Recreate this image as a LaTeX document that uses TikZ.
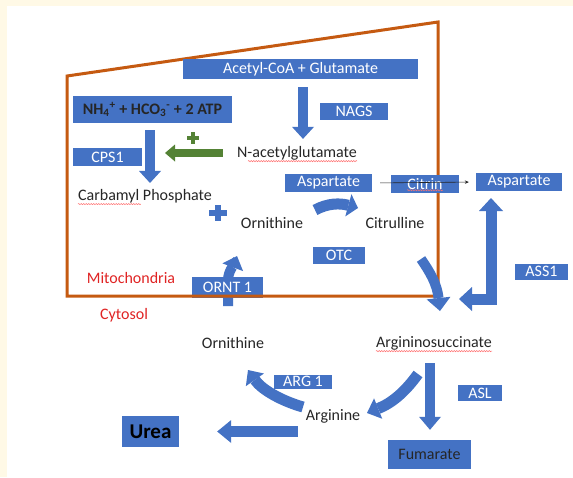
\documentclass[tikz,border=0pt]{standalone}
\usepackage{fontspec}
\setmainfont{Carlito}
\usetikzlibrary{arrows.meta}
\usetikzlibrary{decorations.pathmorphing}
\definecolor{pptblue}{HTML}{4472C4}
\definecolor{pptorange}{HTML}{C55A11}
\definecolor{pptgreen}{HTML}{548235}
\definecolor{pptred}{HTML}{E02424}
\definecolor{cream}{HTML}{FFF9E6}
\begin{document}
\begin{tikzpicture}[x=1pt,y=-1pt,
 bluebox/.style={fill=pptblue,text=white,inner sep=0pt,font=\fontsize{16}{19}\selectfont},
 word/.style={text=black!85,inner sep=0pt,font=\fontsize{16}{19}\selectfont},
 redword/.style={text=pptred,inner sep=0pt,font=\fontsize{16}{19}\selectfont},
 fat/.style={draw=pptblue,line width=10pt,-{Triangle[length=12pt,width=22pt,line width=0pt]}},
 squig/.style={draw=red!55,line width=0.5pt,decorate,decoration={snake,amplitude=0.6pt,segment length=2.5pt}}]
\fill[cream] (0,0) rectangle (573,477);
\fill[white] (7,6) rectangle (573,477);
\useasboundingbox (0,0) rectangle (573,477);
\coordinate (orntfoot) at (228,306);
\coordinate (orntin) at (237,256);
\draw[fat] (orntfoot) -- ++(0,-26) .. controls +(0,-8) and +(-3,8) .. (orntin);
\node[bluebox,minimum width=71pt,minimum height=21pt] (ornt) at (227.5,287.5) {ORNT 1};
\draw[pptorange,line width=3pt] (67,76) -- (438,22) -- (438,296) -- (67,296) -- cycle;
\node[bluebox,minimum width=235pt,minimum height=20pt] (acetyl) at (300.5,69) {Acetyl-CoA + Glutamate};
\node[bluebox,minimum width=68pt,minimum height=17pt] (nags) at (354,111.5) {NAGS};
\node[bluebox,text=black!85,font=\fontsize{16}{19}\selectfont\bfseries,minimum width=159pt,minimum height=27pt] (nh) at (152.5,109.5) {NH\textsubscript{4}\textsuperscript{+} + HCO\textsubscript{3}\textsuperscript{-} + 2 ATP};
\node[bluebox,minimum width=69pt,minimum height=18pt] (cps) at (107.5,157) {CPS1};
\node[word] (nag) at (297,153) {N-acetylglutamate};
\node[word] (carb) at (145,196) {Carbamyl Phosphate};
\node[word] (ornin) at (272,223) {Ornithine};
\node[bluebox,minimum width=87pt,minimum height=18pt] (aspin) at (328.5,183) {Aspartate};
\node[bluebox,minimum width=68pt,minimum height=18pt] (citrin) at (425,184) {Citrin};
\node[bluebox,minimum width=86pt,minimum height=18pt] (aspout) at (519,182) {Aspartate};
\node[word] (citr) at (395,223) {Citrulline};
\node[bluebox,minimum width=52pt,minimum height=17pt] (otc) at (339,255.5) {OTC};
\node[redword] (mito) at (131,278) {Mitochondria};
\node[redword] (cyto) at (124,315) {Cytosol};
\node[word] (ornout) at (233,343) {Ornithine};
\node[word] (argsuc) at (434,343) {Argininosuccinate};
\node[bluebox,minimum width=53pt,minimum height=16pt] (ass) at (541.5,271.5) {ASS1};
\node[bluebox,minimum width=44pt,minimum height=16pt] (asl) at (480,393) {ASL};
\node[word] (arg) at (333,416) {Arginine};
\node[bluebox,minimum width=58pt,minimum height=14pt] (arga) at (303,381.5) {ARG 1};
\node[bluebox,text=black,font=\fontsize{21}{25}\selectfont\bfseries,minimum width=57pt,minimum height=31pt] (urea) at (150.5,431.5) {Urea};
\node[bluebox,text=black!85,minimum width=83pt,minimum height=29pt] (fum) at (429.5,454.5) {Fumarate};
\draw[squig] ([xshift=11pt,yshift=-1pt]nag.south west) -- ([yshift=-1pt]nag.south east);
\draw[squig] ([yshift=-1pt]carb.south west) -- ++(63,0);
\draw[squig] ([xshift=-18pt,yshift=3pt]citrin.south) -- ([xshift=18pt,yshift=3pt]citrin.south);
\draw[squig] ([yshift=-1pt]argsuc.south west) -- ([yshift=-1pt]argsuc.south east);
\draw[fat,shorten <=8pt,shorten >=7pt] ([xshift=2.5pt]acetyl.south) -- ([xshift=6pt]nag.north);
\draw[fat,shorten <=7pt,shorten >=6pt] ([xshift=-2.5pt]nh.south) -- ([xshift=5pt]carb.north);
\draw[pptgreen,line width=8pt,-{Triangle[length=10pt,width=17pt,line width=0pt]},shorten <=14pt,shorten >=12.5pt] (nag.west) -- (nag.west -| nh.south);
\draw[pptgreen,line width=4pt] (187,138) -- (199,138) (193,132) -- (193,144);
\draw[pptblue,line width=5.5pt] (209,213) -- (227,213) (218,205) -- (218,221);
\coordinate (oc1) at (315,210);
\coordinate (oc2) at (358,208);
\draw[fat,line width=11pt,-{Triangle[length=10pt,width=23pt,line width=0pt]}] (oc1) .. controls (328,203) and (340,203) .. (oc2);
\draw[black!85,line width=0.6pt,-{Stealth[length=4pt,width=3.5pt]},shorten <=8pt,shorten >=7pt] (aspin.east) -- (aspout.west);
\coordinate (cu1) at (421,259);
\coordinate (cu2) at (440,311);
\draw[fat,-{Triangle[length=13pt,width=24pt,line width=0pt]}] (cu1) .. controls (430,272) and (437,284) .. (cu2);
\coordinate (asstip) at (459,299);
\coordinate (asscorner) at (491,299);
\coordinate (asstop) at (491,198);
\draw[fat,line width=11pt,line join=miter,{Triangle[length=13pt,width=24pt,line width=0pt]}-{Triangle[length=13pt,width=24pt,line width=0pt]}] (asstip) -- (asscorner) -- (asstop);
\draw[fat,-{Triangle[length=13pt,width=22pt,line width=0pt]},shorten <=13pt,shorten >=10pt] ([xshift=-4pt]argsuc.south) -- ([xshift=0.5pt]fum.north);
\coordinate (as1) at (418,374);
\coordinate (as2) at (367,413);
\draw[fat,line width=11pt] (as1) .. controls (405,392) and (392,403) .. (as2);
\coordinate (ar1) at (303,407);
\coordinate (ar2) at (248,370);
\draw[fat,line width=11pt] (ar1) .. controls (282,401) and (262,390) .. (ar2);
\draw[fat,line width=11pt,-{Triangle[length=14pt,width=23pt,line width=0pt]},shorten <=8pt,shorten >=38pt] (arg.west |- urea.east) -- (urea.east);
\end{tikzpicture}
\end{document}
